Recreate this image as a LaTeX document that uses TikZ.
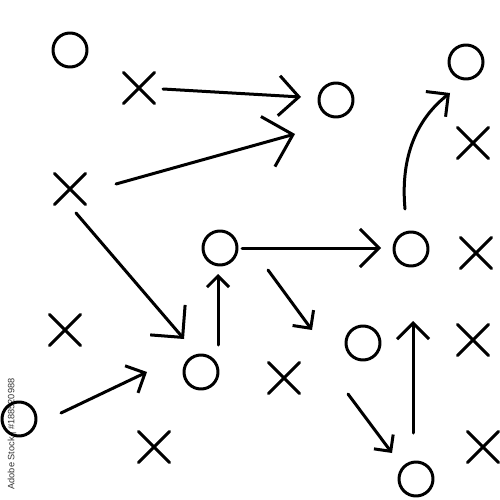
\documentclass[tikz,border=0pt]{standalone}
\usepackage{fontspec}
\setsansfont{Liberation Sans}
\usetikzlibrary{arrows.meta,shapes.misc}
\begin{document}
\begin{tikzpicture}[x=1pt,y=-1pt,
  line width=3pt, line cap=round, line join=round,
  player/.style={circle, draw, minimum size=34pt, inner sep=0pt},
  opp/.style={cross out, draw, minimum size=28pt, inner sep=0pt},
  mv/.style={-{Straight Barb[length=#1pt, width=2*#1pt]}},
  mv/.default=20]
\useasboundingbox (0,0) rectangle (500,500);
% watermark id
\node[rotate=90, font=\sffamily\fontsize{9.2}{10}\selectfont, text=black!80, inner sep=0pt] (wm) at (12,434) {Adobe Stock | \#188520988};
% players (circles)
\node[player] (o1) at (70,50) {};
\node[player] (o2) at (336,100) {};
\node[player] (o3) at (466,62) {};
\node[player] (o4) at (220,248) {};
\node[player] (o5) at (411,249) {};
\node[player] (o6) at (201,372) {};
\node[player] (o7) at (363,343) {};
\node[player] (o8) at (416,479) {};
\node[player] (o9) at (19,419) {};
% opponents (crosses)
\node[opp] (x1) at (139,88) {};
\node[opp] (x2) at (70,189) {};
\node[opp] (x3) at (473,143) {};
\node[opp] (x4) at (476,253) {};
\node[opp] (x5) at (65,330) {};
\node[opp] (x6) at (284,378) {};
\node[opp] (x7) at (473,340) {};
\node[opp] (x8) at (154,447) {};
\node[opp] (x9) at (483,447) {};
% arrow end points
\coordinate (a1s) at (163,89);  \coordinate (a1e) at (301,97);
\coordinate (a2s) at (116,184); \coordinate (a2e) at (295,134);
\coordinate (a3s) at (76,213);  \coordinate (a3e) at (184,339);
\coordinate (a4s) at (218,345); \coordinate (a4e) at (218,274);
\coordinate (a5s) at (242,248); \coordinate (a5e) at (381,248);
\coordinate (a6s) at (268,270); \coordinate (a6e) at (312,330);
\coordinate (a7s) at (61,413);  \coordinate (a7e) at (147,372);
\coordinate (a8s) at (405,209); \coordinate (a8e) at (450,93);
\coordinate (a9s) at (348,394); \coordinate (a9e) at (392,453);
\coordinate (a10s) at (413,433); \coordinate (a10e) at (413,321);
% arrows
\draw[mv=20] (a1s) -- (a1e);
\draw[mv=26] (a2s) -- (a2e);
\draw[mv=23] (a3s) -- (a3e);
\draw[mv=11] (a4s) -- (a4e);
\draw[mv=19] (a5s) -- (a5e);
\draw[mv=13] (a6s) -- (a6e);
\draw[mv=15] (a7s) -- (a7e);
\draw[mv=16] (a8s) .. controls (400,155) and (418,118) .. (a8e);
\draw[mv=12] (a9s) -- (a9e);
\draw[mv=16] (a10s) -- (a10e);
\end{tikzpicture}
\end{document}
